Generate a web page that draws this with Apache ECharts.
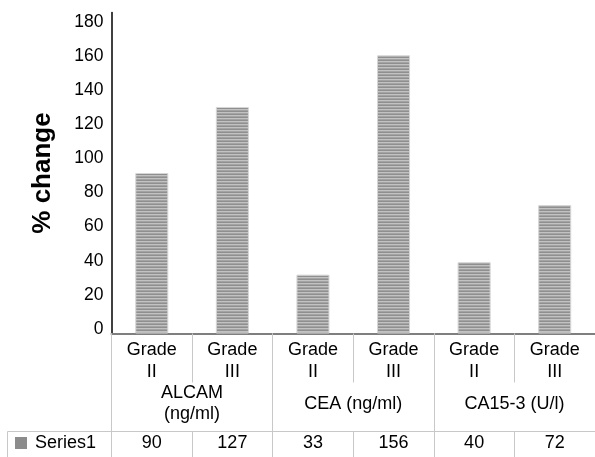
<!DOCTYPE html>
<html>
<head>
<meta charset="utf-8">
<script src="https://cdn.jsdelivr.net/npm/echarts@6/dist/echarts.min.js"></script>
<style>
html,body{margin:0;padding:0;background:#fff;}
#chart{width:595px;height:457px;}
</style>
</head>
<body>
<div id="chart"></div>
<script>
// ---- data ----
const categories = ['Grade\nII', 'Grade\nIII', 'Grade\nII', 'Grade\nIII', 'Grade\nII', 'Grade\nIII'];
const groups = ['ALCAM\n(ng/ml)', 'CEA (ng/ml)', 'CA15-3 (U/l)'];
const seriesName = 'Series1';
const series1 = [90, 127, 33, 156, 40, 72];
const yMin = 0, yMax = 180, yStep = 20;
const yTitle = '% change';

// ---- striped bar fill ----
const pat = document.createElement('canvas');
pat.width = 4; pat.height = 3;
const pc = pat.getContext('2d');
const rows = ['#8f8f8f', '#c2c2c2', '#a3a3a3'];
rows.forEach((c, i) => { pc.fillStyle = c; pc.fillRect(0, i, 4, 1); });

const FONT = "'Liberation Sans', Arial, sans-serif";
const lineC = '#c8c8c8';

const chart = echarts.init(document.getElementById('chart'), null, {renderer: 'canvas'});
chart.setOption({
  animation: false,
  backgroundColor: '#fff',
  textStyle: {fontFamily: FONT},
  grid: [
    {left: 111.5, right: -2, top: 12.5, bottom: 123.5},
    {left: 111.5, right: -2, top: 22, bottom: 128}
  ],
  legend: {
    data: [seriesName],
    left: 15, top: 434, padding: 0,
    itemWidth: 12, itemHeight: 12, icon: 'rect',
    itemStyle: {color: '#8c8c8c', borderWidth: 0},
    textStyle: {fontSize: 18, color: '#000', fontFamily: FONT, padding: [0, 0, 0, 3]}
  },
  graphic: [{
    type: 'rect', silent: true,
    shape: {x: 7.5, y: 431.5, width: 104, height: 40},
    style: {fill: 'none', stroke: lineC, lineWidth: 1}
  }],
  xAxis: [
    {
      type: 'category', gridIndex: 0, position: 'bottom', data: categories,
      axisLine: {show: true, lineStyle: {color: '#7f7f7f', width: 2}},
      axisTick: {show: true, interval: 0, alignWithLabel: false, length: 49, lineStyle: {color: lineC, width: 1}},
      axisLabel: {interval: 0, margin: 6, fontSize: 18, lineHeight: 22, color: '#000', fontFamily: FONT}
    },
    {
      type: 'category', gridIndex: 0, position: 'bottom', data: groups,
      axisLine: {show: true, lineStyle: {color: 'rgba(0,0,0,0)'}},
      axisTick: {show: true, interval: 0, alignWithLabel: false, length: 124, lineStyle: {color: lineC, width: 1}},
      axisLabel: {interval: 0, margin: 70.5, verticalAlign: 'middle', fontSize: 18, lineHeight: 21, color: '#000', fontFamily: FONT}
    },
    {
      type: 'category', gridIndex: 0, position: 'bottom', offset: 98, data: series1.map(String),
      axisLine: {show: true, lineStyle: {color: lineC, width: 1}},
      axisTick: {show: true, interval: 0, alignWithLabel: false, length: 30, lineStyle: {color: lineC, width: 1}},
      axisLabel: {interval: 0, margin: 12, verticalAlign: 'middle', fontSize: 18, color: '#000', fontFamily: FONT}
    },
    {type: 'value', gridIndex: 1, show: false}
  ],
  yAxis: [
    {
      type: 'value', gridIndex: 0, min: yMin, max: yMax, interval: yStep,
      axisLine: {show: true, lineStyle: {color: '#000', width: 1.5}},
      axisTick: {show: false}, splitLine: {show: false}, axisLabel: {show: false},
      name: yTitle, nameLocation: 'middle', nameRotate: 90, nameGap: 56,
      nameTextStyle: {fontSize: 26, fontWeight: 'bold', color: '#000', fontFamily: FONT}
    },
    {
      type: 'value', gridIndex: 1, min: yMin, max: yMax, interval: yStep,
      axisLine: {show: false}, axisTick: {show: false}, splitLine: {show: false},
      axisLabel: {margin: 8, fontSize: 17.5, color: '#000', fontFamily: FONT}
    }
  ],
  series: [{
    name: seriesName, type: 'bar', xAxisIndex: 0, yAxisIndex: 0,
    data: series1, barWidth: '41%',
    itemStyle: {color: {image: pat, repeat: 'repeat'}, borderColor: '#d6d6d6', borderWidth: 1}
  }]
});
</script>
</body>
</html>
